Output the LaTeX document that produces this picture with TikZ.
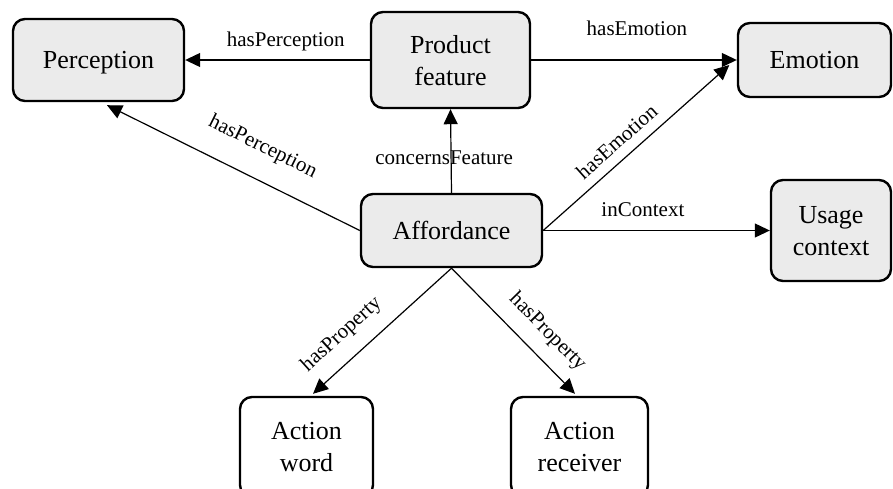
\documentclass[tikz,border=0pt]{standalone}
\usepackage{fontspec}
\setmainfont{Liberation Serif}
\usetikzlibrary{arrows.meta,calc}
\definecolor{boxfill}{RGB}{235,235,235}
\begin{document}
\begin{tikzpicture}[x=1pt,y=-1pt,
  box/.style={draw, line width=2.4pt, rounded corners=12pt, fill=boxfill, inner sep=0pt,
    align=center, text depth=0pt, font=\fontsize{26}{32}\selectfont},
  wbox/.style={box, fill=white},
  edge/.style={line width=1.2pt, -{Triangle[length=15pt,width=14pt]}},
  lblfont/.style={font=\fontsize{21}{25}\selectfont},
  lbl/.style={lblfont, text depth=0pt, inner xsep=0pt, sloped, above}]
\useasboundingbox (0,0) rectangle (893,488);
% nodes
\node[box, minimum width=171pt, minimum height=82pt] (perc) at (98.5,60) {Perception};
\node[box, minimum width=159pt, minimum height=96pt] (prod) at (450.5,60) {Product\\feature};
\node[box, minimum width=153pt, minimum height=74pt] (emo) at (814.5,60) {Emotion};
\node[box, minimum width=181pt, minimum height=73pt] (aff) at (451.5,230.5) {Affordance};
\node[box, minimum width=120pt, minimum height=101pt] (use) at (831,230.5) {Usage\\context};
\node[wbox, minimum width=133pt, minimum height=100pt] (aw) at (306.5,447) {Action\\word};
\node[wbox, minimum width=137pt, minimum height=100pt] (ar) at (579.5,447) {Action\\receiver};
% target points
\coordinate (percIn) at ($(perc.south)+(8.5,3)$);
\coordinate (emoIn) at ($(emo.west)+(-7.5,5)$);
\coordinate (awIn) at ($(aw.north)+(6.5,-2)$);
\coordinate (arIn) at ($(ar.north)+(-4.5,-2)$);
% edges
\draw[edge] (prod.west) -- node[lbl, pos=0.455, inner ysep=13pt] {hasPerception} (perc.east);
\draw[edge] (prod.east) -- node[lbl, pos=0.514, inner ysep=24pt] {hasEmotion} (emo.west);
\draw[edge] (aff.north) -- node[lblfont, pos=0.337, anchor=base, xshift=-7pt, inner sep=0pt] {concernsFeature} (prod.south);
\draw[edge] (aff.west) -- node[lbl, pos=0.44, inner ysep=26pt] {hasPerception} (percIn);
\draw[edge] (aff.east) -- node[lbl, pos=0.458, inner ysep=10pt] {hasEmotion} (emoIn);
\draw[edge] (aff.east) -- node[lbl, pos=0.44, inner ysep=13pt] {inContext} (use.west);
\draw[edge] (aff.south) -- node[lbl, pos=0.674, inner ysep=19pt] {hasProperty} (awIn);
\draw[edge] (aff.south) -- node[lbl, pos=0.64, inner ysep=18pt] {hasProperty} (arIn);
\end{tikzpicture}
\end{document}
